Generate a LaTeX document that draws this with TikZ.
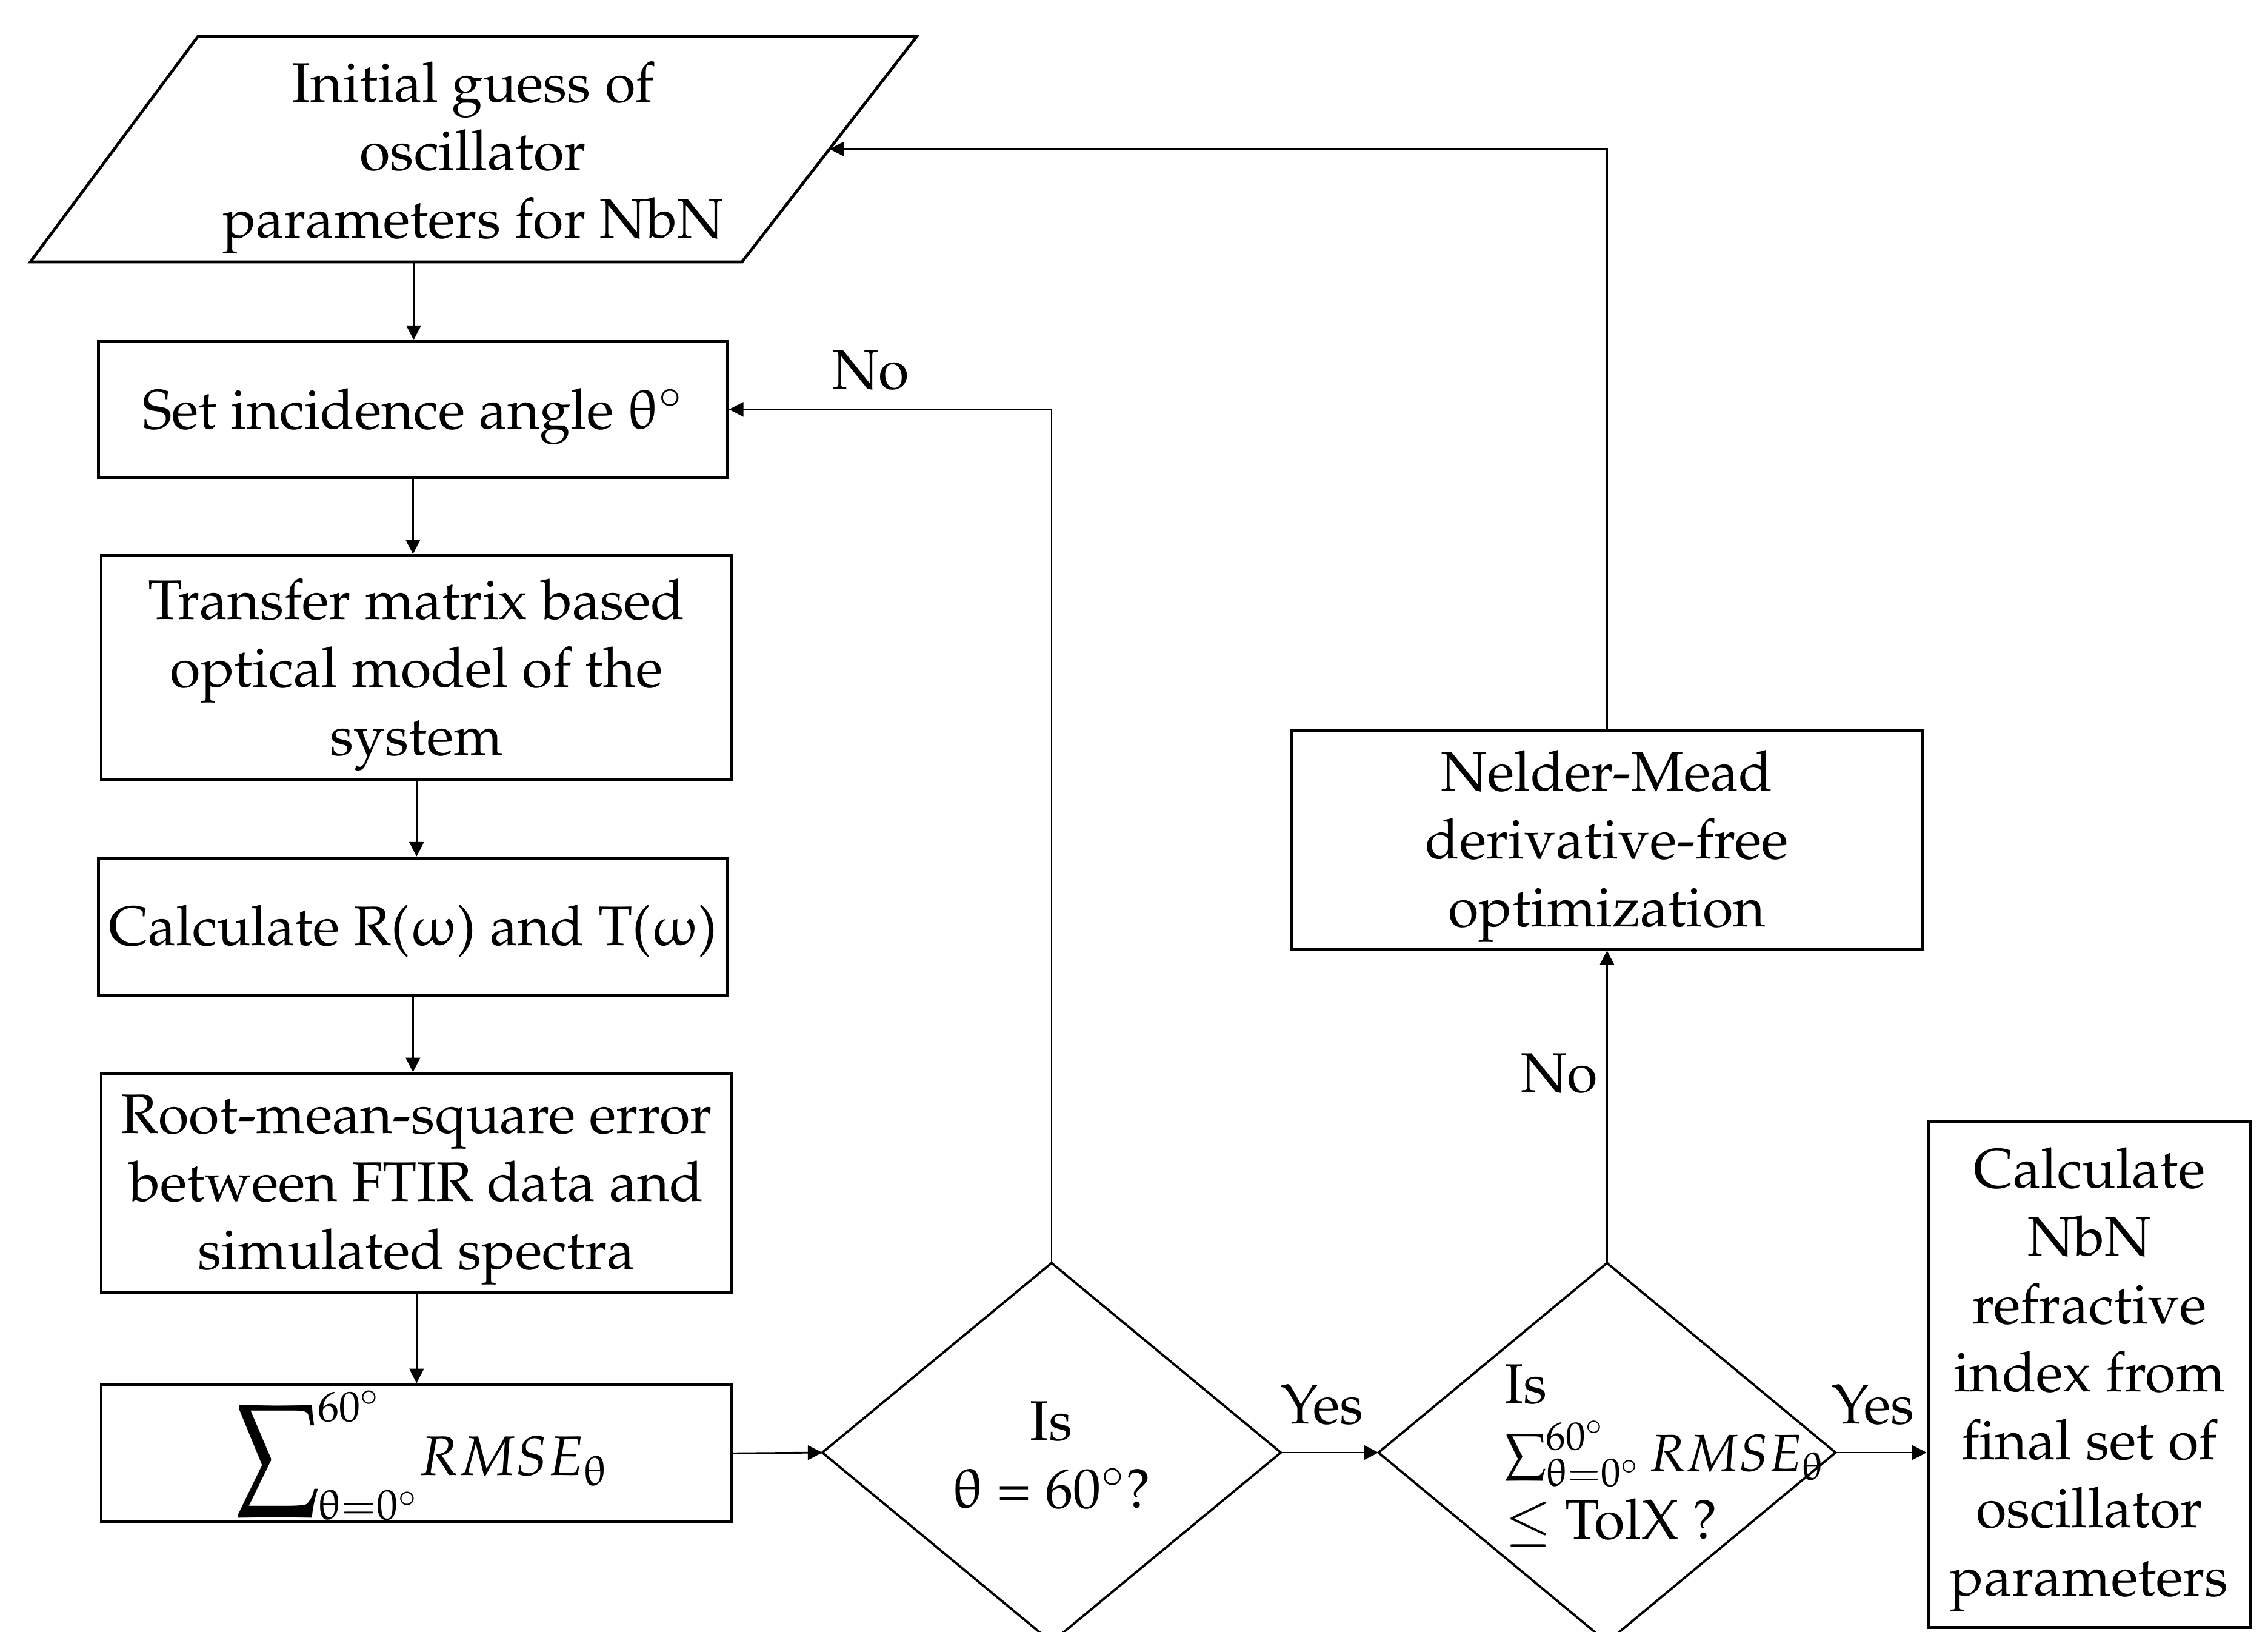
\documentclass[tikz,border=0pt]{standalone}
\usepackage[T1]{fontenc}
\usepackage{mathpazo}
\usepackage{upgreek}
\usepackage{graphicx}
\usetikzlibrary{arrows.meta}
\newcommand\diagfont{\fontsize{19.3}{23.5}\selectfont}
\newcommand\thup{\uptheta}
\begin{document}
\begin{tikzpicture}[x=0.5pt,y=-0.5pt,
  box/.style={draw,line width=1pt,inner sep=0pt},
  txt/.style={inner sep=0pt,align=center,font=\diagfont},
  shp/.style={line width=1pt,line join=miter},
  dshp/.style={line width=0.8pt,line join=miter},
  arr/.style={-{Triangle[length=5pt,width=5pt]},line width=0.6pt}]
\useasboundingbox (0,0) rectangle (1568,1128);
% parallelogram
\coordinate (p1) at (137,25);
\coordinate (p2) at (634,25);
\coordinate (p3) at (513,181);
\coordinate (p4) at (21,181);
\draw[shp] (p1) -- (p2) -- (p3) -- (p4) -- cycle;
\node[txt] (init) at (327,109) {Initial guess of\\oscillator\\parameters for NbN};
\coordinate (pbot) at (286,181);
\coordinate (pin) at (573.5,103);
% boxes
\node[box,minimum width=217.5pt,minimum height=47pt] (b1) at (285.5,283) {};
\node[txt] (b1t) at ([yshift=-2.5pt]b1.center) {Set incidence angle $\thup^\circ$};
\node[box,minimum width=218pt,minimum height=77.5pt] (b2) at (288,461.5) {};
\node[txt] (b2t) at ([yshift=-2.5pt]b2.center) {Transfer matrix based\\optical model of the\\system};
\node[box,minimum width=217.5pt,minimum height=47.5pt] (b3) at (285.5,640.5) {};
\node[txt] (b3t) at ([yshift=-1.5pt]b3.center) {Calculate R($\upomega$) and T($\upomega$)};
\node[box,minimum width=218pt,minimum height=75.5pt] (b4) at (288,817.5) {};
\node[txt] (b4t) at ([yshift=-2.5pt]b4.center) {Root-mean-square error\\between FTIR data and\\simulated spectra};
\node[box,minimum width=218pt,minimum height=47.5pt] (b5) at (288,1004.5) {};
\node[txt,anchor=west] (sum) at (162,1006) {$\mathop{\vcenter{\hbox{\scalebox{1.35}[1.6]{$\displaystyle\sum$}}}}\nolimits^{60^\circ}_{\thup=0^\circ}\!RMSE_{\thup}$};
\node[box,minimum width=218pt,minimum height=75.5pt] (nm) at (1111,580.5) {};
\node[txt] (nmt) at ([yshift=-2.3pt]nm.center) {Nelder-Mead\\derivative-free\\optimization};
\node[box,minimum width=111.5pt,minimum height=175pt] (fin) at (1444.5,950) {};
\node[txt] (fint) at ([yshift=-1.7pt]fin.center) {Calculate\\NbN\\refractive\\index from\\final set of\\oscillator\\parameters};
% diamonds
\coordinate (d1l) at (568.5,1004);
\coordinate (d1r) at (885.5,1004);
\coordinate (d1t) at (727,873);
\coordinate (d1b) at (727,1135);
\draw[dshp] (d1l) -- (d1t) -- (d1r) -- (d1b) -- cycle;
\node[txt] (q1) at (727,1006) {Is\\$\thup$ = 60$^\circ$?};
\coordinate (d2l) at (953,1004);
\coordinate (d2r) at (1269,1004);
\coordinate (d2t) at (1111,873);
\coordinate (d2b) at (1111,1135);
\draw[dshp] (d2l) -- (d2t) -- (d2r) -- (d2b) -- cycle;
\node[txt,align=left,anchor=west] (q2) at (1040,1006) {Is\\\scalebox{0.93}{$\sum_{\thup=0^\circ}^{60^\circ}RMSE_{\thup}$}\\$\leq$ TolX ?};
% connectors
\draw[arr] (pbot) -- (pbot |- b1.north);
\draw[arr] (b1.south) -- (b1.south |- b2.north);
\draw[arr] (b2.south) -- (b2.south |- b3.north);
\draw[arr] (b3.south) -- (b3.south |- b4.north);
\draw[arr] (b4.south) -- (b4.south |- b5.north);
\draw[arr] (b5.east) -- (d1l);
\draw[arr] (d1t) |- (b1.east);
\draw[arr] (d1r) -- (d2l);
\draw[arr] (d2t) -- (nm.south);
\draw[arr] (nm.north) |- (pin);
\draw[arr] (d2r) -- (d2r -| fin.west);
% labels
\node[txt] (no1) at (602,256) {No};
\node[txt] (yes1) at (914,971) {Yes};
\node[txt] (no2) at (1078,742) {No};
\node[txt] (yes2) at (1295,971) {Yes};
\end{tikzpicture}
\end{document}
